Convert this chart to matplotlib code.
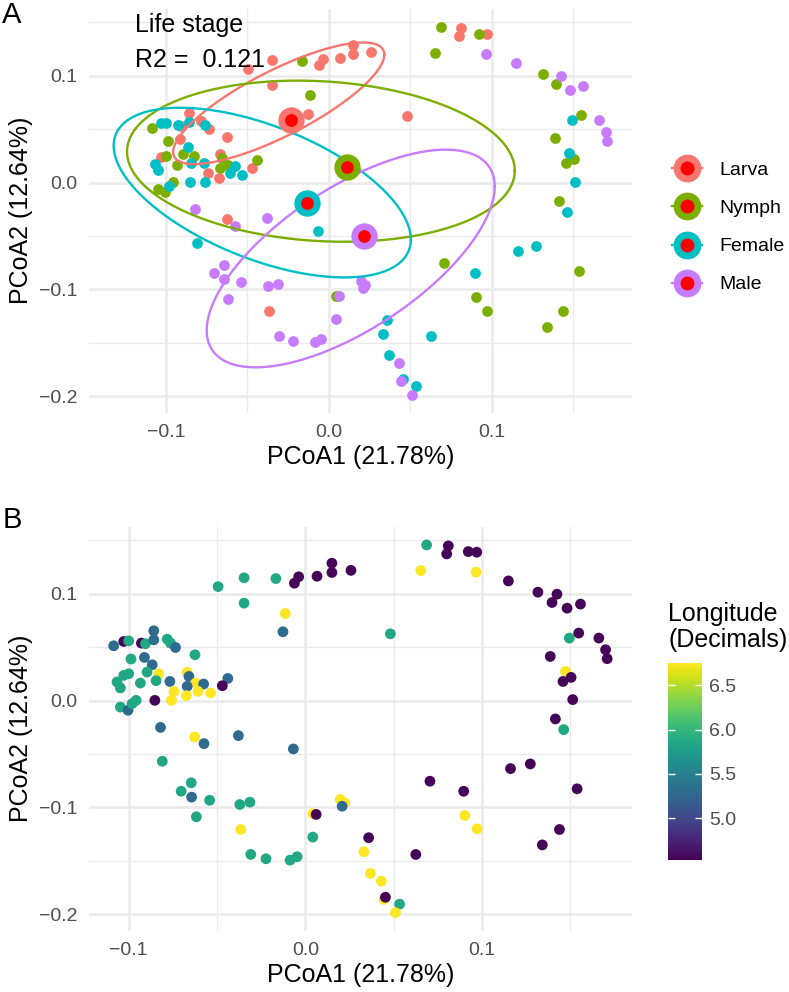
import numpy as np
import matplotlib
matplotlib.use('Agg')
import matplotlib.pyplot as plt
from matplotlib.lines import Line2D
from matplotlib.ticker import MultipleLocator, FuncFormatter

plt.rcParams['font.family'] = ['Liberation Sans', 'DejaVu Sans']

# PCoA scores of the samples
pcoa1 = [-0.0494, -0.0347, -0.0167, -0.0062, -0.0038, 0.0066, 0.0150, 0.0150, 0.0258, -0.0347,
         -0.0114, -0.0127, 0.0481, -0.1085, -0.1028, -0.1000, -0.0928, -0.0905, -0.0858, -0.0858,
         -0.0782, -0.0763, -0.0735, -0.0987, -0.0911, -0.0625, -0.0867, -0.0896, -0.0830, -0.0669,
         -0.0659, -0.1028, -0.1000, -0.1066, -0.1047, -0.0934, -0.0845, -0.0767, -0.0621, -0.0576,
         -0.0439, -0.0470, -0.0536, -0.0608, -0.0744, -0.0669, -0.0758, -0.0674, -0.0852, -0.1047,
         -0.1004, -0.0981, -0.0958, -0.0820, -0.0627, -0.0574, -0.0379, -0.0068, -0.0810, -0.0646,
         -0.0703, -0.0644, -0.0542, -0.0617, -0.0371, -0.0314, -0.0366, -0.0309, -0.0223, -0.0087,
         -0.0047, 0.0197, 0.0222, 0.0208, 0.0042, 0.0061, 0.0042, 0.0358, 0.0331, 0.0368,
         0.0430, 0.0445, 0.0453, 0.0533, 0.0510, 0.0686, 0.0809, 0.0800, 0.0922, 0.0970,
         0.0653, 0.0966, 0.1149, 0.1316, 0.1424, 0.1396, 0.1481, 0.1557, 0.1494, 0.1547,
         0.1661, 0.1699, 0.1708, 0.1386, 0.1472, 0.1504, 0.1458, 0.1513, 0.1415, 0.1462,
         0.1161, 0.1273, 0.1538, 0.0705, 0.0896, 0.0903, 0.0972, 0.1438, 0.1341, 0.0625]
pcoa2 = [0.1068, 0.1150, 0.1143, 0.1100, 0.1160, 0.1165, 0.1287, 0.1200, 0.1220, 0.0913,
         0.0816, 0.0645, 0.0626, 0.0514, 0.0554, 0.0560, 0.0539, 0.0533, 0.0654, 0.0570,
         0.0576, 0.0539, 0.0498, 0.0390, 0.0405, 0.0430, 0.0336, 0.0268, 0.0252, 0.0265,
         0.0227, 0.0237, 0.0252, 0.0175, 0.0119, 0.0165, 0.0187, 0.0180, 0.0165, 0.0156,
         0.0208, 0.0140, 0.0072, 0.0087, 0.0087, 0.0134, 0.0003, 0.0047, 0.0003, -0.0060,
         -0.0090, -0.0028, 0.0003, -0.0250, -0.0340, -0.0402, -0.0327, -0.0452, -0.0567, -0.0769,
         -0.0848, -0.0903, -0.0932, -0.1087, -0.0972, -0.0950, -0.1206, -0.1439, -0.1480, -0.1493,
         -0.1461, -0.0925, -0.0956, -0.0988, -0.1059, -0.1065, -0.1277, -0.1283, -0.1414, -0.1617,
         -0.1690, -0.1860, -0.1840, -0.1905, -0.1984, 0.1458, 0.1449, 0.1374, 0.1396, 0.1390,
         0.1218, 0.1203, 0.1121, 0.1016, 0.0997, 0.0919, 0.0866, 0.0904, 0.0586, 0.0633,
         0.0586, 0.0477, 0.0393, 0.0414, 0.0274, 0.0218, 0.0180, 0.0010, -0.0171, -0.0271,
         -0.0636, -0.0592, -0.0825, -0.0754, -0.0848, -0.1075, -0.1200, -0.1206, -0.1350, -0.1440]
stage = ['Larva', 'Larva', 'Nymph', 'Larva', 'Larva', 'Larva', 'Larva', 'Larva', 'Larva', 'Larva',
         'Nymph', 'Larva', 'Larva', 'Nymph', 'Female', 'Female', 'Female', 'Larva', 'Larva', 'Female',
         'Larva', 'Female', 'Larva', 'Nymph', 'Larva', 'Larva', 'Female', 'Nymph', 'Nymph', 'Larva',
         'Nymph', 'Larva', 'Nymph', 'Female', 'Female', 'Nymph', 'Female', 'Female', 'Nymph', 'Female',
         'Nymph', 'Larva', 'Female', 'Female', 'Larva', 'Nymph', 'Female', 'Larva', 'Female', 'Nymph',
         'Nymph', 'Female', 'Nymph', 'Male', 'Larva', 'Male', 'Male', 'Female', 'Female', 'Male',
         'Male', 'Male', 'Male', 'Male', 'Male', 'Male', 'Larva', 'Male', 'Male', 'Male',
         'Male', 'Male', 'Male', 'Male', 'Nymph', 'Male', 'Male', 'Female', 'Female', 'Female',
         'Male', 'Male', 'Female', 'Female', 'Male', 'Nymph', 'Larva', 'Larva', 'Nymph', 'Larva',
         'Nymph', 'Male', 'Male', 'Nymph', 'Male', 'Nymph', 'Male', 'Male', 'Female', 'Nymph',
         'Male', 'Male', 'Male', 'Nymph', 'Female', 'Nymph', 'Nymph', 'Female', 'Nymph', 'Female',
         'Female', 'Female', 'Nymph', 'Nymph', 'Female', 'Nymph', 'Nymph', 'Nymph', 'Nymph', 'Female']
longitude = [5.85, 5.85, 5.85, 4.55, 4.55, 4.55, 4.55, 4.55, 4.55, 5.85,
             6.75, 5.3, 5.85, 5.3, 4.55, 5.85, 4.55, 5.85, 5.3, 5.3,
             5.85, 5.85, 5.3, 5.85, 5.3, 5.85, 5.3, 5.85, 6.75, 6.75,
             5.3, 5.85, 5.85, 5.85, 5.85, 5.85, 5.85, 5.3, 6.75, 5.3,
             5.3, 4.55, 6.75, 6.75, 6.75, 5.3, 6.75, 6.75, 4.55, 5.85,
             5.3, 5.85, 5.85, 5.3, 6.75, 5.3, 5.3, 5.3, 5.85, 5.85,
             5.85, 5.3, 5.85, 5.85, 5.85, 5.85, 6.75, 5.85, 5.85, 5.85,
             5.85, 6.75, 6.75, 5.3, 6.75, 4.55, 5.85, 4.55, 6.75, 6.75,
             6.75, 6.75, 4.55, 5.85, 6.75, 5.85, 4.55, 4.55, 4.55, 4.55,
             6.75, 6.75, 4.55, 4.55, 4.55, 4.55, 4.55, 4.55, 5.85, 4.55,
             4.55, 4.55, 4.55, 4.55, 6.75, 4.55, 4.55, 4.55, 4.55, 5.85,
             4.55, 4.55, 4.55, 4.55, 4.55, 6.75, 6.75, 4.55, 4.55, 4.55]

stages = ['Larva', 'Nymph', 'Female', 'Male']
stage_colors = ['#F8766D', '#7CAE00', '#00BFC4', '#C77CFF']

# group centroids
cent_x = [-0.0230, 0.0114, -0.0134, 0.0215]
cent_y = [0.0590, 0.0143, -0.0187, -0.0500]

# 95% ellipses: centre, x half-width with its y shift, remaining y half-height
ell_cx = [-0.0308, -0.0049, -0.0409, 0.0134]
ell_cy = [0.0743, 0.0201, -0.0093, -0.0710]
ell_ax = [0.0648, 0.1190, 0.0912, 0.0884]
ell_ay = [0.0455, -0.0089, -0.0439, 0.0673]
ell_by = [0.0342, 0.0749, 0.0662, 0.0765]

x = np.array(pcoa1)
y = np.array(pcoa2)
st = np.array(stage)

grey30 = '#4D4D4D'
grid_col = '#EBEBEB'


def fmt(v, pos):
    s = '%.1f' % v
    if s == '-0.0':
        s = '0.0'
    return s.replace('-', '\u2212')


def style(ax):
    for s in ax.spines.values():
        s.set_visible(False)
    ax.xaxis.set_major_locator(MultipleLocator(0.1))
    ax.xaxis.set_minor_locator(MultipleLocator(0.05))
    ax.yaxis.set_major_locator(MultipleLocator(0.1))
    ax.yaxis.set_minor_locator(MultipleLocator(0.05))
    ax.xaxis.set_major_formatter(FuncFormatter(fmt))
    ax.yaxis.set_major_formatter(FuncFormatter(fmt))
    ax.grid(which='major', color=grid_col, lw=1.9)
    ax.grid(which='minor', color=grid_col, lw=1.0)
    ax.set_axisbelow(True)
    ax.tick_params(which='both', length=0, labelsize=14, labelcolor=grey30)
    ax.tick_params(axis='x', pad=8)
    ax.tick_params(axis='y', pad=8.5)
    ax.set_xlabel('PCoA1 (21.78%)', fontsize=18, labelpad=3)
    ax.set_ylabel('PCoA2 (12.64%)', fontsize=18, labelpad=4)
    ax.margins(0.05)


fig = plt.figure(figsize=(7.89, 9.92), dpi=100)

# ---- panel A: life stage
axA = fig.add_axes([0.1128, 0.5837, 0.688, 0.4077])
t = np.linspace(0, 2 * np.pi, 300)
for i, g in enumerate(stages):
    m = st == g
    axA.scatter(x[m], y[m], s=60, color=stage_colors[i], lw=0, zorder=2)
for i, g in enumerate(stages):
    ex = ell_cx[i] + ell_ax[i] * np.cos(t)
    ey = ell_cy[i] + ell_ay[i] * np.cos(t) + ell_by[i] * np.sin(t)
    axA.plot(ex, ey, color=stage_colors[i], lw=1.7, zorder=3)
for i, g in enumerate(stages):
    axA.scatter(cent_x[i], cent_y[i], s=360, color=stage_colors[i], lw=0, zorder=4)
    axA.scatter(cent_x[i], cent_y[i], s=85, color='red', lw=0, zorder=5)
style(axA)
axA.text(-0.119, 0.148, 'Life stage', fontsize=18, ha='left', va='center')
axA.text(-0.119, 0.115, 'R2 =  0.121', fontsize=18, ha='left', va='center')

handles = []
for c in stage_colors:
    handles.append((Line2D([], [], color=c, lw=1.7),
                    Line2D([], [], ls='', marker='o', ms=19, mfc=c, mec=c),
                    Line2D([], [], ls='', marker='o', ms=9, mfc='red', mec='red')))
fig.legend(handles, stages, loc='center left', bbox_to_anchor=(0.852, 1 - 227.5 / 992),
           frameon=False, fontsize=14, handlelength=1.55, handletextpad=0.9,
           labelspacing=1.05, borderpad=0, borderaxespad=0)

fig.text(12 / 789, 1 - 15 / 992, 'A', fontsize=21, ha='center', va='center')

# ---- panel B: longitude
axB = fig.add_axes([0.1128, 0.0615, 0.688, 0.4077])
sc = axB.scatter(x, y, c=longitude, cmap='viridis', vmin=4.53, vmax=6.75, s=60, lw=0, zorder=2)
style(axB)
fig.text(12 / 789, 1 - 520 / 992, 'B', fontsize=21, ha='center', va='center')

cax = fig.add_axes([668 / 789, (992 - 860) / 992, 34 / 789, 197 / 992])
cb = fig.colorbar(sc, cax=cax, ticks=[5.0, 5.5, 6.0, 6.5])
cb.outline.set_visible(False)
cax.tick_params(length=0, labelsize=14, labelcolor=grey30, pad=5)
cax.set_yticklabels(['5.0', '5.5', '6.0', '6.5'])
cax.hlines([5.0, 5.5, 6.0, 6.5], 0, 0.2, colors='white', lw=1)
cax.hlines([5.0, 5.5, 6.0, 6.5], 0.8, 1, colors='white', lw=1)
fig.text(668 / 789, 1 - 627 / 992, 'Longitude\n(Decimals)', fontsize=18,
         ha='left', va='center', linespacing=1.07)

fig.savefig('out.png', dpi=100)
